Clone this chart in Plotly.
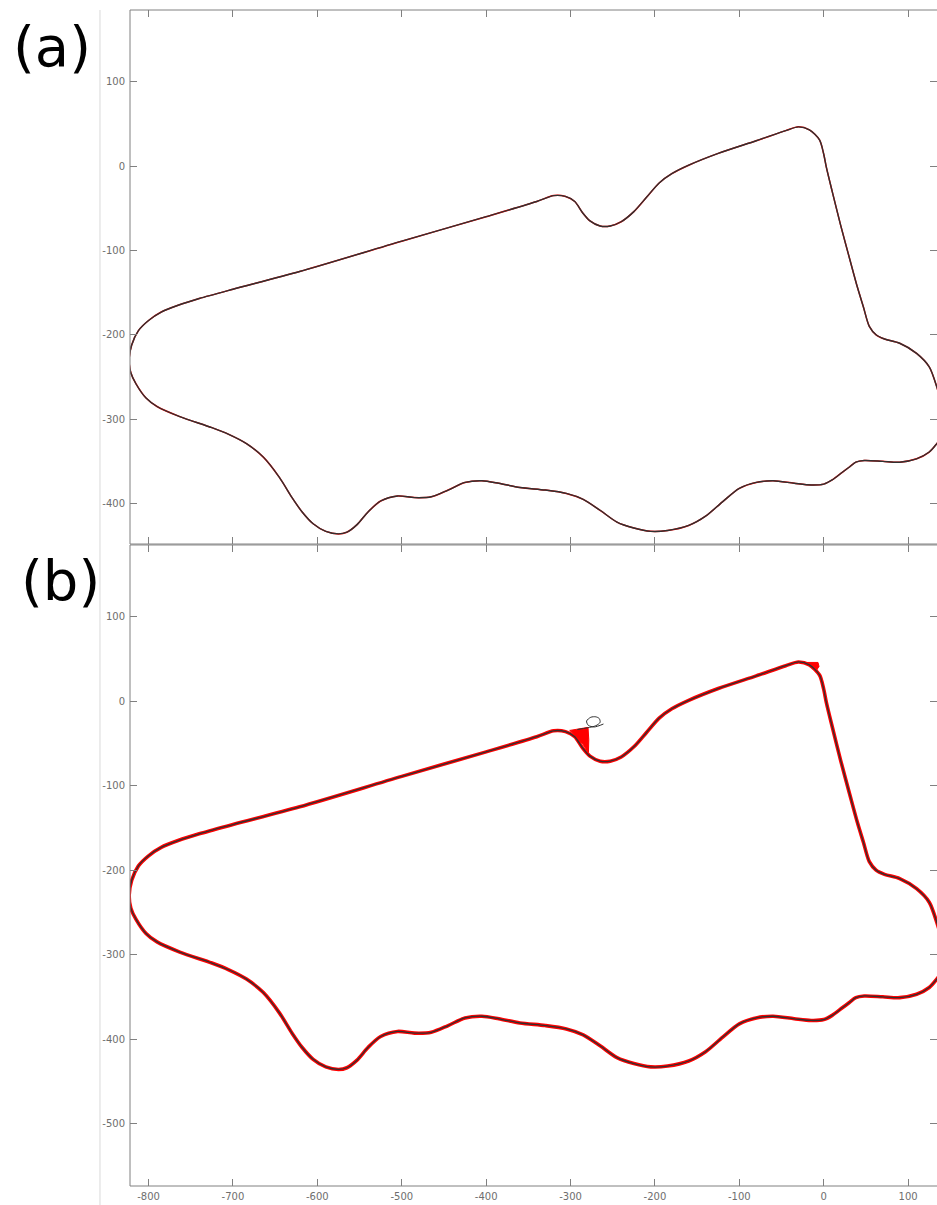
import plotly.graph_objects as go

# ---- traced contour (closed loop, data units) ----
path_x = [-823, -820, -812, -800, -785, -765, -740, -700, -621, -500, -400, -340, -320, -306,
          -295, -286, -277, -265, -253, -240, -225, -210, -195, -180, -160, -125, -80, -45,
          -30, -17, -5, 0, 3, 10, 20, 31, 40, 47, 54, 62, 72, 90, 110, 125, 134,
          142, 142, 134, 125, 110, 90, 70, 48, 38, 30, 22, 10, 0, -15, -35, -60, -80,
          -100, -120, -140, -160, -185, -205, -225, -245, -265, -285, -305, -330, -360,
          -385, -405, -425, -445, -465, -485, -505, -525, -540, -553, -565, -575, -590,
          -605, -618, -630, -645, -664, -684, -705, -725, -763, -790, -803, -815, -821, -823]
path_y = [-230, -212, -195, -183, -173, -165, -157, -146, -125, -89, -60, -42, -35, -36,
          -42, -55, -65, -71, -71, -66, -54, -37, -20, -9, 1, 15, 30, 42,
          46.5, 43, 31, 14, -1, -30, -70, -111, -144, -167, -190, -200, -205, -210, -222, -238, -262,
          -292, -318, -329, -339, -347, -351, -350, -349, -351, -357, -363, -372, -377, -378, -376, -373, -375,
          -382, -398, -415, -426, -432, -433, -429, -422, -408, -395, -388, -384, -381,
          -376, -373, -375, -384, -392, -393, -391, -397, -410, -425, -434, -436, -433,
          -424, -410, -393, -369, -345, -329, -318, -310, -297, -285, -275, -258, -245, -230]

# ---- panel (b) extras ----
loop_x = [-292, -280, -270, -265, -266, -270, -276, -281, -279, -272, -261]
loop_y = [-33.5, -31.5, -29, -25, -20.5, -18.5, -19, -23.5, -28.5, -30.5, -27]

patch1_x = [-301, -279.3, -278.4, -278.8, -285, -293, -301]
patch1_y = [-34.6, -31, -45.6, -60.6, -51.5, -41.7, -34.6]
patch2_x = [-20.5, -6.8, -5.6, -8.6, -12.7, -20.5]
patch2_y = [45.9, 45.9, 41.2, 36.5, 39.3, 45.9]

# ---- ticks ----
x_tick_vals = [-800, -700, -600, -500, -400, -300, -200, -100, 0, 100]
x_tick_text = ["-800", "-700", "-600", "-500", "-400", "-300", "-200", "-100", "0", "100"]
ya_tick_vals = [100, 0, -100, -200, -300, -400]
ya_tick_text = ["100", "0", "-100", "-200", "-300", "-400"]
yb_tick_vals = [100, 0, -100, -200, -300, -400, -500]
yb_tick_text = ["100", "0", "-100", "-200", "-300", "-400", "-500"]

RED = "#ff0000"
BLK = "#303030"

fig = go.Figure()
# panel (a)
fig.add_trace(go.Scatter(x=path_x, y=path_y, mode="lines", line=dict(color=RED, width=1.5, shape="spline", smoothing=0.8),
                         xaxis="x", yaxis="y", hoverinfo="skip"))
fig.add_trace(go.Scatter(x=path_x, y=path_y, mode="lines", line=dict(color=BLK, width=1.4, shape="spline", smoothing=0.8),
                         xaxis="x", yaxis="y", hoverinfo="skip"))
# panel (b)
fig.add_trace(go.Scatter(x=path_x, y=path_y, mode="lines", line=dict(color=RED, width=3.6, shape="spline", smoothing=0.8),
                         xaxis="x2", yaxis="y2", hoverinfo="skip"))
for px_, py_ in [(patch1_x, patch1_y), (patch2_x, patch2_y)]:
    fig.add_trace(go.Scatter(x=px_, y=py_, mode="lines", fill="toself", fillcolor=RED,
                             line=dict(color=RED, width=1), xaxis="x2", yaxis="y2", hoverinfo="skip"))
fig.add_trace(go.Scatter(x=path_x, y=path_y, mode="lines", line=dict(color=BLK, width=1.3, shape="spline", smoothing=0.8),
                         xaxis="x2", yaxis="y2", hoverinfo="skip"))
fig.add_trace(go.Scatter(x=loop_x, y=loop_y, mode="lines", line=dict(color=BLK, width=1, shape="spline", smoothing=0.8),
                         xaxis="x2", yaxis="y2", hoverinfo="skip"))

AX = "#808080"
tickfont = dict(family="DejaVu Sans", size=10, color="#6e6e6e")
common_x = dict(range=[-822, 134.2], ticks="inside", ticklen=7, tickwidth=1, tickcolor=AX,
                tickvals=x_tick_vals, ticktext=x_tick_text, showgrid=False, zeroline=False,
                showline=False, mirror="ticks", tickfont=tickfont, domain=[0, 1], ticklabelstandoff=3)
common_y = dict(ticks="inside", ticklen=7, tickwidth=1, tickcolor=AX, showgrid=False, zeroline=False,
                showline=False, mirror="ticks", tickfont=tickfont, ticklabelstandoff=4)

DA = [0.5459, 1.0]
DB = [0.0, 0.5451]

fig.update_layout(
    width=937, height=1205,
    margin=dict(l=130, r=0, t=10, b=19),
    paper_bgcolor="white", plot_bgcolor="white",
    showlegend=False,
    xaxis=dict(anchor="y", showticklabels=False, **common_x),
    xaxis2=dict(anchor="y2", showticklabels=True, **common_x),
    yaxis=dict(anchor="x", domain=DA, range=[-448, 185], tickvals=ya_tick_vals, ticktext=ya_tick_text, **common_y),
    yaxis2=dict(anchor="x2", domain=DB, range=[-574, 185], tickvals=yb_tick_vals, ticktext=yb_tick_text, **common_y),
)

shapes = []
line = dict(color=AX, width=1)
for d in (DA, DB):
    shapes.append(dict(type="line", xref="paper", yref="paper", x0=0, x1=0, y0=d[0], y1=d[1], line=line))
    shapes.append(dict(type="line", xref="paper", yref="paper", x0=0, x1=1, y0=d[1], y1=d[1], line=line))
    shapes.append(dict(type="line", xref="paper", yref="paper", x0=0, x1=1, y0=d[0], y1=d[0], line=line))
# faint vertical guide line at the left
shapes.append(dict(type="line", xref="paper", yref="paper", x0=-0.0372, x1=-0.0372, y0=-0.02, y1=1.0,
                   line=dict(color="#d9d9d9", width=1)))
fig.update_layout(shapes=shapes)

fig.add_annotation(text="(a)", xref="paper", yref="paper", x=-0.0967, y=0.9985, showarrow=False,
                   xanchor="center", yanchor="top", font=dict(family="DejaVu Sans", size=56, color="black"))
fig.add_annotation(text="(b)", xref="paper", yref="paper", x=-0.0867, y=0.5443, showarrow=False,
                   xanchor="center", yanchor="top", font=dict(family="DejaVu Sans", size=56, color="black"))

# remove the default 8px page margin so the figure sits exactly in the 937x1205 window
fig.write_html("out.html", config={"displayModeBar": False},
               post_script="document.body.style.margin='0';document.body.style.overflow='hidden';")
